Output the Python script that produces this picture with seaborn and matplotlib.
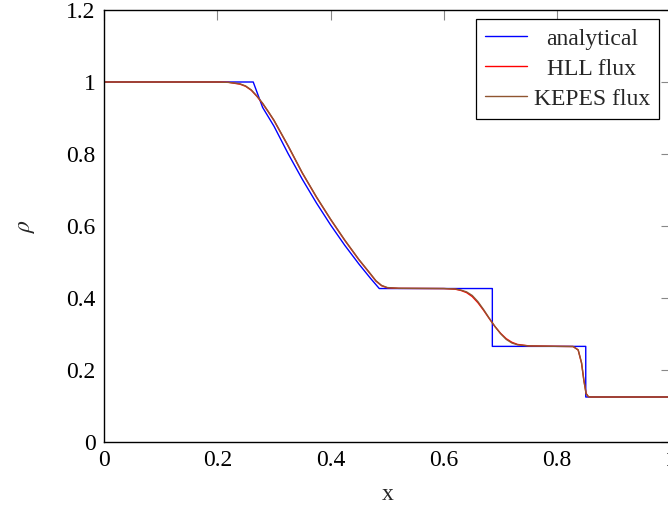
import numpy as np
import pandas as pd
import matplotlib
matplotlib.use("Agg")
import matplotlib.pyplot as plt
import seaborn as sns

# ---- data (Sod shock tube, density) ----
x_analytical = [0.0, 0.2634, 0.28, 0.30, 0.325, 0.35, 0.375, 0.40, 0.425, 0.45,
                0.47, 0.4859, 0.6855, 0.6855, 0.8504, 0.8504, 1.0]
rho_analytical = [1.0, 1.0, 0.9294, 0.8774, 0.8010, 0.7299, 0.6640, 0.6029, 0.5464,
                  0.4943, 0.4555, 0.4263, 0.4263, 0.2656, 0.2656, 0.125, 0.125]

x_hll = [0.0, 0.20, 0.22, 0.24, 0.25, 0.26, 0.27, 0.28, 0.29, 0.30, 0.325, 0.35,
         0.375, 0.40, 0.425, 0.45, 0.47, 0.48, 0.49, 0.50, 0.52, 0.60, 0.62, 0.63,
         0.64, 0.65, 0.66, 0.67, 0.68, 0.69, 0.70, 0.71, 0.72, 0.73, 0.75, 0.80,
         0.828, 0.837, 0.843, 0.847, 0.851, 0.855, 0.86, 1.0]
rho_hll = [1.0, 1.0, 0.999, 0.994, 0.988, 0.977, 0.960, 0.940, 0.917, 0.893, 0.822,
           0.747, 0.680, 0.618, 0.560, 0.506, 0.467, 0.447, 0.434, 0.4285, 0.4268,
           0.4262, 0.4245, 0.421, 0.415, 0.404, 0.387, 0.366, 0.343, 0.321, 0.302,
           0.287, 0.277, 0.271, 0.2670, 0.2657, 0.2652, 0.2556, 0.219, 0.172, 0.135,
           0.126, 0.125, 0.125]

x_kepes = [0.0, 0.20, 0.22, 0.24, 0.25, 0.26, 0.27, 0.28, 0.29, 0.30, 0.325, 0.35,
           0.375, 0.40, 0.425, 0.45, 0.47, 0.48, 0.49, 0.50, 0.52, 0.60, 0.62, 0.63,
           0.64, 0.65, 0.66, 0.67, 0.68, 0.69, 0.70, 0.71, 0.72, 0.73, 0.75, 0.80,
           0.828, 0.837, 0.843, 0.847, 0.851, 0.855, 0.86, 1.0]
rho_kepes = [1.0, 1.0, 0.999, 0.995, 0.989, 0.978, 0.961, 0.941, 0.918, 0.894, 0.823,
             0.748, 0.681, 0.619, 0.561, 0.507, 0.468, 0.448, 0.435, 0.4290, 0.4270,
             0.4263, 0.4250, 0.422, 0.417, 0.407, 0.390, 0.368, 0.344, 0.321, 0.301,
             0.285, 0.275, 0.270, 0.2668, 0.2657, 0.2653, 0.2560, 0.220, 0.172, 0.134,
             0.126, 0.125, 0.125]

labels = ["analytical", "HLL flux", "KEPES flux"]
colors = ["#0000FF", "#FF0000", "#8F5530"]

# ---- style ----
sns.set_theme(style="white")
plt.rcParams["font.family"] = ["Liberation Serif", "DejaVu Serif"]
plt.rcParams["mathtext.fontset"] = "stix"

fig = plt.figure(figsize=(6.68, 5.05), dpi=100)
W, H = 668, 505
left, right, top, bottom = 104, 670.5, 10, 442
ax = fig.add_axes([left / W, 1 - bottom / H, (right - left) / W, (bottom - top) / H])

series = [(x_analytical, rho_analytical), (x_hll, rho_hll), (x_kepes, rho_kepes)]
for (xs, ys), lab, col in zip(series, labels, colors):
    df = pd.DataFrame({"x": xs, "rho": ys})
    sns.lineplot(data=df, x="x", y="rho", ax=ax, color=col, lw=1.0,
                 estimator=None, sort=False, label=lab)

ax.set_xlim(0, 1)
ax.set_ylim(0, 1.2)
ax.set_xticks([0, 0.2, 0.4, 0.6, 0.8, 1.0])
ax.set_xticklabels(["0", "0.2", "0.4", "0.6", "0.8", "1"])
ax.set_yticks([0, 0.2, 0.4, 0.6, 0.8, 1.0, 1.2])
ax.set_yticklabels(["0", "0.2", "0.4", "0.6", "0.8", "1", "1.2"])
ax.tick_params(direction="in", length=7.5, width=0.8, color="#888888",
               top=True, right=True, labelsize=17, pad=6, labelcolor="black")
for s in ax.spines.values():
    s.set_color("black")
    s.set_linewidth(1.0)

ax.set_xlabel("x", fontsize=17)
ax.set_ylabel(r"$\rho$", fontsize=17)
ax.xaxis.set_label_coords(0.5, -0.097)
ax.yaxis.set_label_coords(-0.118, 0.5)

leg = ax.legend(loc="upper right", bbox_to_anchor=(1 - 11.5 / 566.5, 1 - 9 / 432),
                fontsize=17, frameon=True, fancybox=False, edgecolor="black",
                framealpha=1.0, borderaxespad=0.0, handlelength=1.75,
                handletextpad=0.3, labelspacing=0.36, borderpad=0.38)
leg.get_frame().set_linewidth(0.9)
for line in leg.get_lines():
    line.set_linewidth(1.0)

# centre legend texts like pgfplots
fig.canvas.draw()
r = fig.canvas.get_renderer()
texts = leg.get_texts()
widths = [t.get_window_extent(r).width for t in texts]
mw = max(widths)
for t, w in zip(texts, widths):
    t.set_position(((mw - w) / 2, 0))

fig.savefig("out.png", dpi=100)
